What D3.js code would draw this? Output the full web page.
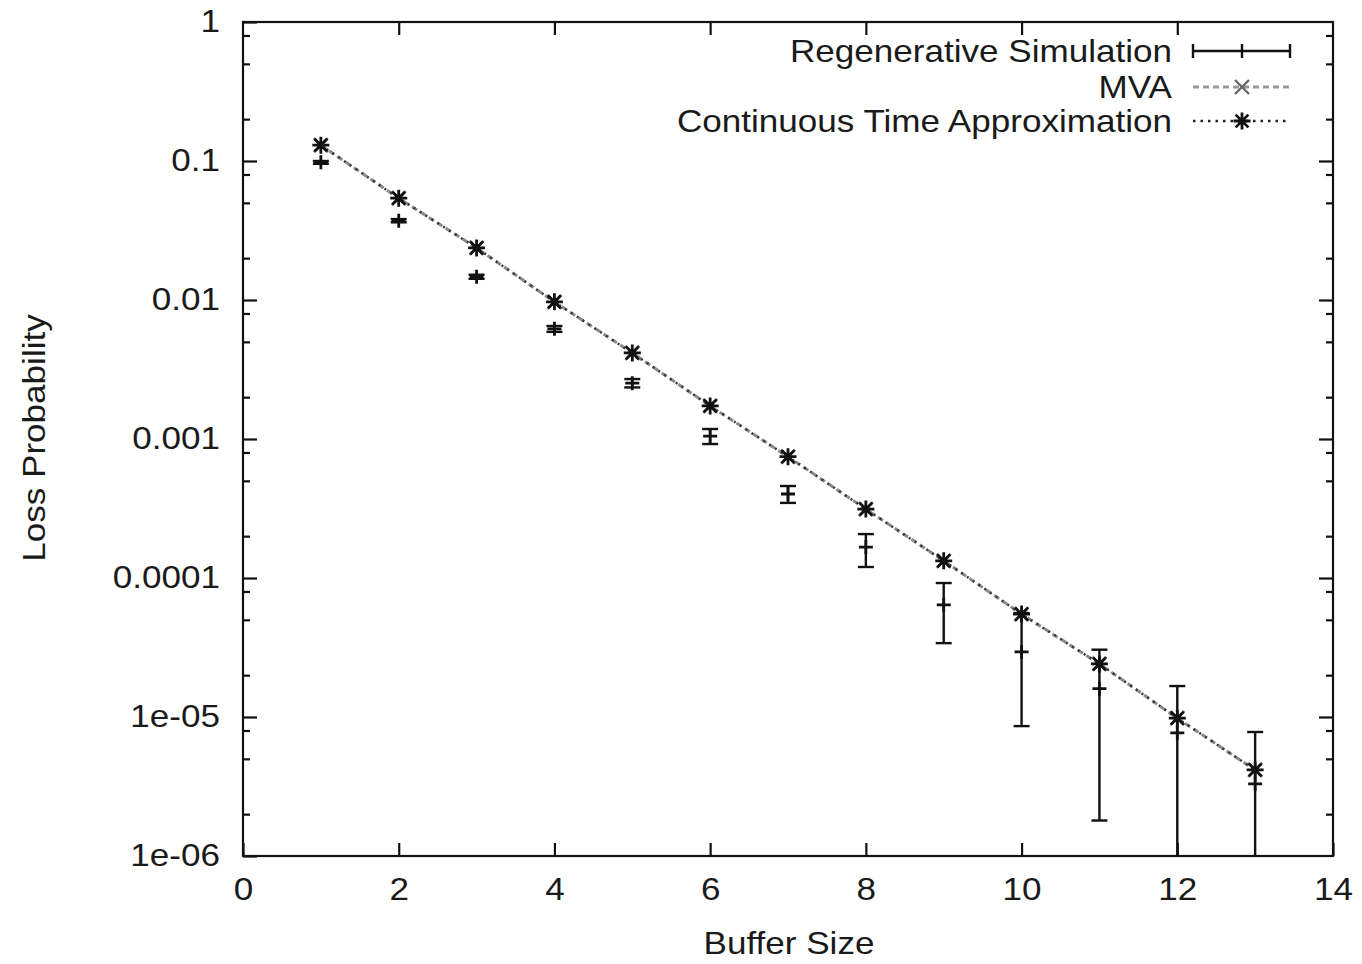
<!DOCTYPE html>
<html>
<head>
<meta charset="utf-8">
<script src="https://cdn.jsdelivr.net/npm/d3@7"></script>
<style>
  html, body { margin: 0; padding: 0; background: #fff; }
  svg { display: block; }
  text { font-family: "Liberation Sans", Arial, Helvetica, sans-serif; fill: #1a1a1a; }
</style>
</head>
<body>
<svg id="chart" width="1362" height="964"></svg>
<script>
// Buffer sizes on the x axis
const bufferSizes = [1, 2, 3, 4, 5, 6, 7, 8, 9, 10, 11, 12, 13];

// Regenerative simulation: estimate with confidence interval
const simMean = [0.0978, 0.0372, 0.0147, 0.0062, 0.00252, 0.00105, 4.02e-4, 1.67e-4, 6.4e-5, 2.94e-5, 1.6e-5, 7.7e-6, 3.3e-6];
const simLow  = [0.0955, 0.0362, 0.0142, 0.0059, 0.00235, 0.00092, 3.47e-4, 1.2e-4, 3.4e-5, 8.6e-6, 1.8e-6, 5e-7, 5e-7];
const simHigh = [0.1000, 0.0382, 0.0152, 0.0065, 0.00270, 0.00118, 4.59e-4, 2.07e-4, 9.2e-5, 5.6e-5, 3.05e-5, 1.67e-5, 7.8e-6];

// Analytical approximations
const mvaValues = [0.130, 0.054, 0.0237, 0.0097, 0.00416, 0.00173, 7.46e-4, 3.13e-4, 1.33e-4, 5.5e-5, 2.41e-5, 9.8e-6, 4.16e-6];
const ctaValues = [0.130, 0.054, 0.0237, 0.0097, 0.00416, 0.00173, 7.46e-4, 3.13e-4, 1.33e-4, 5.5e-5, 2.41e-5, 9.8e-6, 4.16e-6];

// Axis ticks
const xTicks = [0, 2, 4, 6, 8, 10, 12, 14];
const yTicks = [1, 0.1, 0.01, 0.001, 0.0001, 1e-5, 1e-6];
const yTickLabels = ["1", "0.1", "0.01", "0.001", "0.0001", "1e-05", "1e-06"];
const yMinorTicks = [0.8, 0.5, 0.2, 0.08, 0.05, 0.02, 0.008, 0.005, 0.002, 8e-4, 5e-4, 2e-4,
                     8e-5, 5e-5, 2e-5, 8e-6, 5e-6, 2e-6];

const legendLabels = ["Regenerative Simulation", "MVA", "Continuous Time Approximation"];

const STRETCH = 1.15;
const FONT = 30.5;
const svg = d3.select("#chart");
const plotLeft = 243, plotRight = 1333, plotTop = 22, plotBottom = 856;

const x = d3.scaleLinear().domain([0, 14]).range([plotLeft, plotRight]);
const y = d3.scaleLog().domain([1e-6, 1]).range([plotBottom, plotTop]);

svg.append("defs").append("clipPath").attr("id", "plotClip")
  .append("rect").attr("x", plotLeft).attr("y", plotTop)
  .attr("width", plotRight - plotLeft).attr("height", plotBottom - plotTop);

// Axes: ticks point inward and are mirrored on the opposite sides
function styleAxis(g) {
  g.select(".domain").remove();
  g.selectAll(".tick line").attr("stroke", "#111").attr("stroke-width", 2.2);
}

svg.append("g").attr("transform", `translate(0,${plotBottom})`)
  .call(d3.axisBottom(x).tickValues(xTicks).tickSize(-13).tickSizeOuter(0).tickPadding(22)
    .tickFormat(d3.format("d")))
  .call(styleAxis)
  .call(g => g.selectAll(".tick text").attr("font-size", FONT)
    .attr("font-family", "Liberation Sans, Arial, sans-serif").attr("fill", "#1a1a1a")
    .attr("transform", `scale(${STRETCH},1)`));

svg.append("g").attr("transform", `translate(0,${plotTop})`)
  .call(d3.axisTop(x).tickValues(xTicks.slice(1, -1)).tickSize(-13).tickSizeOuter(0).tickFormat(""))
  .call(styleAxis);

svg.append("g").attr("transform", `translate(${plotLeft},0)`)
  .call(d3.axisLeft(y).tickValues(yTicks).tickSize(-14).tickSizeOuter(0).tickPadding(23)
    .tickFormat((d, i) => yTickLabels[i]))
  .call(styleAxis)
  .call(g => g.selectAll(".tick text").attr("font-size", FONT)
    .attr("font-family", "Liberation Sans, Arial, sans-serif").attr("fill", "#1a1a1a")
    .attr("x", -23 / STRETCH)
    .attr("transform", `scale(${STRETCH},1)`));

svg.append("g").attr("transform", `translate(${plotLeft},0)`)
  .call(d3.axisLeft(y).tickValues(yMinorTicks).tickSize(-7).tickSizeOuter(0).tickFormat(""))
  .call(styleAxis);

svg.append("g").attr("transform", `translate(${plotRight},0)`)
  .call(d3.axisRight(y).tickValues(yTicks.slice(1, -1)).tickSize(-14).tickSizeOuter(0).tickFormat(""))
  .call(styleAxis);

svg.append("g").attr("transform", `translate(${plotRight},0)`)
  .call(d3.axisRight(y).tickValues(yMinorTicks).tickSize(-7).tickSizeOuter(0).tickFormat(""))
  .call(styleAxis);

// Axis titles
function stretchedText(parent, tx, ty, str, anchor, angle) {
  const g = parent.append("g").attr("transform", `translate(${tx},${ty}) rotate(${angle || 0}) scale(${STRETCH},1)`);
  g.append("text").attr("text-anchor", anchor).attr("font-size", FONT).text(str);
  return g;
}
stretchedText(svg, 789, 954, "Buffer Size", "middle", 0);
stretchedText(svg, 45, 438, "Loss Probability", "middle", -90);

// Plot contents
const plot = svg.append("g").attr("clip-path", "url(#plotClip)");

const line = d3.line().x((d, i) => x(bufferSizes[i])).y(d => y(d));

plot.append("path").datum(mvaValues).attr("d", line)
  .attr("fill", "none").attr("stroke", "#8a8a8a").attr("stroke-width", 3)
  .attr("stroke-dasharray", "6,4");
plot.append("path").datum(ctaValues).attr("d", line)
  .attr("fill", "none").attr("stroke", "#333").attr("stroke-width", 2.4)
  .attr("stroke-dasharray", "2,5");

// Marker shapes
function crossPath(r) { return `M${-r},${-r}L${r},${r}M${-r},${r}L${r},${-r}`; }
function plusPath(r) { return `M${-r},0L${r},0M0,${-r}L0,${r}`; }
function starPath(r) { const s = r * 0.75; return plusPath(r) + crossPath(s); }

plot.selectAll(".mva").data(mvaValues).join("path").attr("class", "mva")
  .attr("transform", (d, i) => `translate(${x(bufferSizes[i])},${y(d)})`)
  .attr("d", crossPath(7)).attr("stroke", "#666").attr("stroke-width", 2.4).attr("fill", "none");

plot.selectAll(".cta").data(ctaValues).join("path").attr("class", "cta")
  .attr("transform", (d, i) => `translate(${x(bufferSizes[i])},${y(d)})`)
  .attr("d", starPath(8.5)).attr("stroke", "#111").attr("stroke-width", 2.8).attr("fill", "none");

// Simulation error bars
const cap = 8;
const bars = plot.selectAll(".sim").data(bufferSizes).join("g").attr("class", "sim");
bars.append("line")
  .attr("x1", d => x(d)).attr("x2", d => x(d))
  .attr("y1", (d, i) => y(simLow[i])).attr("y2", (d, i) => y(simHigh[i]))
  .attr("stroke", "#111").attr("stroke-width", 2.4);
bars.append("line")
  .attr("x1", d => x(d) - cap).attr("x2", d => x(d) + cap)
  .attr("y1", (d, i) => y(simLow[i])).attr("y2", (d, i) => y(simLow[i]))
  .attr("stroke", "#111").attr("stroke-width", 2.4);
bars.append("line")
  .attr("x1", d => x(d) - cap).attr("x2", d => x(d) + cap)
  .attr("y1", (d, i) => y(simHigh[i])).attr("y2", (d, i) => y(simHigh[i]))
  .attr("stroke", "#111").attr("stroke-width", 2.4);
bars.append("path")
  .attr("transform", (d, i) => `translate(${x(d)},${y(simMean[i])})`)
  .attr("d", plusPath(7)).attr("stroke", "#111").attr("stroke-width", 2.8).attr("fill", "none");

// Frame
svg.append("rect").attr("x", plotLeft).attr("y", plotTop)
  .attr("width", plotRight - plotLeft).attr("height", plotBottom - plotTop)
  .attr("fill", "none").attr("stroke", "#111").attr("stroke-width", 2.2);

// Legend
const legendRows = [51, 87, 121];
const sx0 = 1193, sx1 = 1290, sxm = 1242;
legendLabels.forEach((lab, i) => {
  stretchedText(svg, 1172, legendRows[i] + 10.5, lab, "end", 0);
});
const lg = svg.append("g");
// simulation sample
lg.append("line").attr("x1", sx0).attr("x2", sx1).attr("y1", legendRows[0]).attr("y2", legendRows[0])
  .attr("stroke", "#111").attr("stroke-width", 2.4);
[sx0, sxm, sx1].forEach(px => lg.append("line").attr("x1", px).attr("x2", px)
  .attr("y1", legendRows[0] - 7).attr("y2", legendRows[0] + 7).attr("stroke", "#111").attr("stroke-width", 2.4));
// MVA sample
lg.append("line").attr("x1", sx0).attr("x2", sx1).attr("y1", legendRows[1]).attr("y2", legendRows[1])
  .attr("stroke", "#999").attr("stroke-width", 3).attr("stroke-dasharray", "6,4");
lg.append("path").attr("transform", `translate(${sxm},${legendRows[1]})`)
  .attr("d", crossPath(7)).attr("stroke", "#666").attr("stroke-width", 2.4).attr("fill", "none");
// CTA sample
lg.append("line").attr("x1", sx0).attr("x2", sx1).attr("y1", legendRows[2]).attr("y2", legendRows[2])
  .attr("stroke", "#222").attr("stroke-width", 2.4).attr("stroke-dasharray", "2.5,5");
lg.append("path").attr("transform", `translate(${sxm},${legendRows[2]})`)
  .attr("d", starPath(8.5)).attr("stroke", "#111").attr("stroke-width", 2.8).attr("fill", "none");
</script>
</body>
</html>
